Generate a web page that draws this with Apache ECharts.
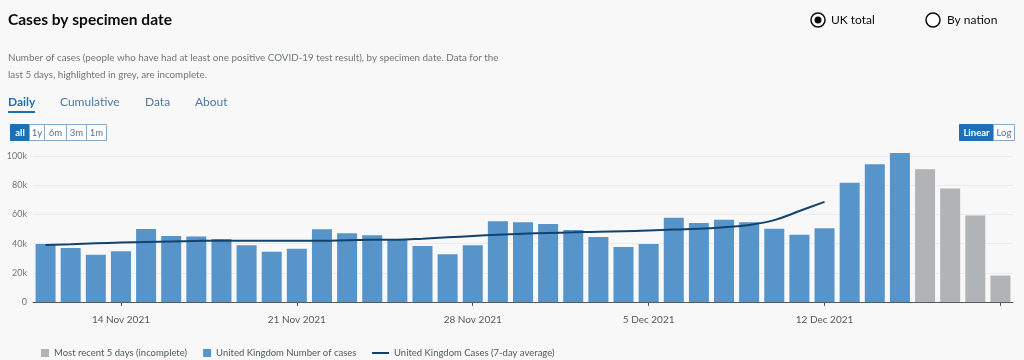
<!DOCTYPE html>
<html>
<head>
<meta charset="utf-8">
<script src="https://cdn.jsdelivr.net/npm/echarts@6/dist/echarts.min.js"></script>
<style>
html,body{margin:0;padding:0;background:#f8f8f8;}
#chart{width:1024px;height:360px;}
</style>
</head>
<body>
<div id="chart"></div>
<script>
const dates = ['11 Nov 2021','12 Nov 2021','13 Nov 2021','14 Nov 2021','15 Nov 2021','16 Nov 2021','17 Nov 2021','18 Nov 2021','19 Nov 2021','20 Nov 2021',
  '21 Nov 2021','22 Nov 2021','23 Nov 2021','24 Nov 2021','25 Nov 2021','26 Nov 2021','27 Nov 2021','28 Nov 2021','29 Nov 2021','30 Nov 2021',
  '1 Dec 2021','2 Dec 2021','3 Dec 2021','4 Dec 2021','5 Dec 2021','6 Dec 2021','7 Dec 2021','8 Dec 2021','9 Dec 2021','10 Dec 2021',
  '11 Dec 2021','12 Dec 2021','13 Dec 2021','14 Dec 2021','15 Dec 2021','16 Dec 2021','17 Dec 2021','18 Dec 2021','19 Dec 2021'];
const ukCases = [39700,37000,32300,34800,50000,45200,44800,43200,38900,34500,
  36400,49800,47100,45700,42500,38400,32700,38900,55300,54600,
  53400,49300,44500,37700,39800,57700,54100,56400,54600,50200,
  46100,50500,81600,94300,102000,null,null,null,null];
const incomplete = [null,null,null,null,null,null,null,null,null,null,
  null,null,null,null,null,null,null,null,null,null,
  null,null,null,null,null,null,null,null,null,null,
  null,null,null,null,null,90900,77800,59300,18100];
const avg7 = [39100,39600,40200,40700,41100,41500,41800,42000,42000,42000,
  42000,42000,42300,42600,42700,43400,44300,45200,46100,46800,
  47300,47700,48200,48400,48900,49600,50100,51200,52800,56100,
  62300,68600,null,null,null,null,null,null,null];
const yTicks = [0,20000,40000,60000,80000,100000];
const labelIdx = [3,10,17,24,31];
const tickIdx = [3,10,17,24,31,38];

const FONT = 'Lato, "Noto Sans", sans-serif';
const chart = echarts.init(document.getElementById('chart'), null, {renderer:'canvas'});

function btn(x, y, w, h, label, active){
  return [
    {type:'rect', shape:{x:x,y:y,width:w,height:h}, style:{fill: active ? '#1d70b8' : '#ffffff', stroke: active ? '#1d70b8' : '#8aa9c8', lineWidth:1}},
    {type:'text', x:x + w/2, y:y + h/2, style:{text:label, fill: active ? '#ffffff' : '#5b6f85', font:(active?'bold ':'') + '9.5px ' + FONT, align:'center', verticalAlign:'middle'}}
  ];
}

const graphics = [
  {type:'text', x:8, y:49, style:{text:'Number of cases (people who have had at least one positive COVID-19 test result), by specimen date. Data for the\nlast 5 days, highlighted in grey, are incomplete.', fill:'#6f777b', font:'9.8px ' + FONT, lineHeight:17}},
  {type:'text', x:8, y:102, style:{text:'Daily', fill:'#1d70b8', font:'bold 12px ' + FONT, verticalAlign:'middle'}},
  {type:'rect', shape:{x:8,y:111,width:27,height:2}, style:{fill:'#1d70b8'}},
  {type:'text', x:60, y:102, style:{text:'Cumulative', fill:'#4f77a3', font:'12px ' + FONT, verticalAlign:'middle'}},
  {type:'text', x:145, y:102, style:{text:'Data', fill:'#4f77a3', font:'12px ' + FONT, verticalAlign:'middle'}},
  {type:'text', x:195, y:102, style:{text:'About', fill:'#4f77a3', font:'12px ' + FONT, verticalAlign:'middle'}},
  {type:'circle', shape:{cx:818,cy:20,r:7}, style:{fill:'#ffffff', stroke:'#0b0c0c', lineWidth:1.5}},
  {type:'circle', shape:{cx:818,cy:20,r:3.5}, style:{fill:'#0b0c0c'}},
  {type:'text', x:831, y:20, style:{text:'UK total', fill:'#0b0c0c', font:'12px ' + FONT, verticalAlign:'middle'}},
  {type:'circle', shape:{cx:933,cy:20,r:7}, style:{fill:'#ffffff', stroke:'#0b0c0c', lineWidth:1.5}},
  {type:'text', x:947, y:20, style:{text:'By nation', fill:'#0b0c0c', font:'12px ' + FONT, verticalAlign:'middle'}}
]
.concat(btn(10.5,124.5,19,16,'all',true))
.concat(btn(29.5,124.5,15,16,'1y',false))
.concat(btn(44.5,124.5,22,16,'6m',false))
.concat(btn(66.5,124.5,20,16,'3m',false))
.concat(btn(86.5,124.5,20,16,'1m',false))
.concat(btn(959.5,124.5,34,16,'Linear',true))
.concat(btn(993.5,124.5,21,16,'Log',false));

const option = {
  backgroundColor:'#f8f8f8',
  animation:false,
  title:{text:'Cases by specimen date', left:8, top:12, padding:0, textStyle:{fontFamily:FONT, fontSize:15.5, fontWeight:'bold', color:'#0b0c0c'}},
  graphic: graphics,
  legend:[
    {left:41, top:348, padding:0, itemWidth:8, itemHeight:8, itemGap:16, icon:'rect',
     data:['Most recent 5 days (incomplete)','United Kingdom Number of cases'],
     textStyle:{fontFamily:FONT, fontSize:9.5, color:'#505a5f'}},
    {left:372, top:348, padding:0, itemWidth:17, itemHeight:2, icon:'rect',
     data:['United Kingdom Cases (7-day average)'],
     textStyle:{fontFamily:FONT, fontSize:9.5, color:'#505a5f'}}
  ],
  grid:{left:33, right:11, top:156, bottom:58, containLabel:false},
  xAxis:[
    {type:'category', data:dates, offset:7, boundaryGap:true,
     axisLine:{show:false},
     axisTick:{show:true, length:4, alignWithLabel:true, interval:(i)=>tickIdx.indexOf(i)>=0, lineStyle:{color:'#505a5f'}},
     axisLabel:{interval:(i)=>labelIdx.indexOf(i)>=0, margin:6, fontFamily:FONT, fontSize:10, color:'#505a5f'}},
    {type:'category', data:dates, position:'bottom', boundaryGap:true,
     axisLine:{show:true, lineStyle:{color:'#505a5f', width:1}},
     axisTick:{show:false}, axisLabel:{show:false}}
  ],
  yAxis:{type:'value', min:yTicks[0], max:yTicks[yTicks.length-1], interval:20000,
    axisLine:{show:false}, axisTick:{show:false},
    splitLine:{lineStyle:{color:'#ebebeb', width:1}},
    axisLabel:{margin:6, fontFamily:FONT, fontSize:9, color:'#6f777b',
      formatter:(v)=> v===0 ? '0' : (v/1000)+'k'}},
  series:[
    {name:'Most recent 5 days (incomplete)', type:'bar', data:incomplete, barWidth:20, barGap:'-100%', clip:false,
     itemStyle:{color:'#b1b4b6'}},
    {name:'United Kingdom Number of cases', type:'bar', data:ukCases, barWidth:20, barGap:'-100%', clip:false,
     itemStyle:{color:'#5694ca'}},
    {name:'United Kingdom Cases (7-day average)', type:'line', data:avg7, smooth:0.4, symbol:'none', connectNulls:false,
     lineStyle:{color:'#12436d', width:2}, itemStyle:{color:'#12436d'}, z:5}
  ]
};
chart.setOption(option);
</script>
</body>
</html>
